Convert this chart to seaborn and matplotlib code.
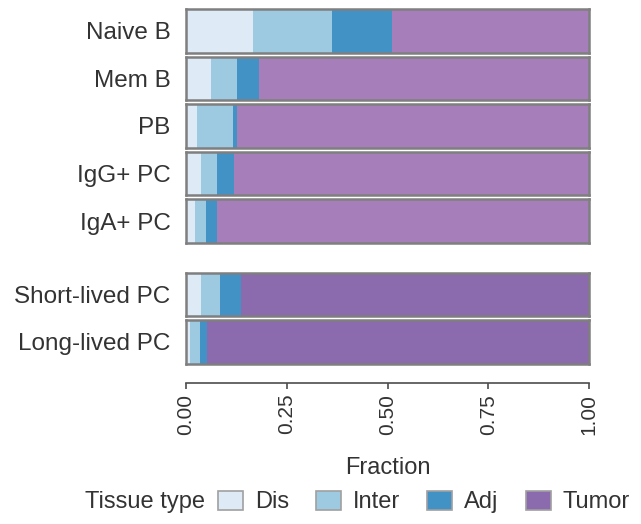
import numpy as np
import pandas as pd
import matplotlib.pyplot as plt
import seaborn as sns
from matplotlib.patches import Patch

sns.set_style("white")
plt.rcParams["font.family"] = ["Liberation Sans", "DejaVu Sans"]

# fractions per cell type
cells = ["Naive B", "Mem B", "PB", "IgG+ PC", "IgA+ PC", "Short-lived PC", "Long-lived PC"]
group = ["top", "top", "top", "top", "top", "bottom", "bottom"]
dis = [0.167, 0.061, 0.028, 0.037, 0.023, 0.038, 0.010]
inter = [0.195, 0.065, 0.088, 0.041, 0.027, 0.047, 0.025]
adj = [0.148, 0.056, 0.010, 0.040, 0.026, 0.051, 0.018]
tumor = [0.490, 0.818, 0.874, 0.882, 0.924, 0.864, 0.947]

tissues = ["Dis", "Inter", "Adj", "Tumor"]
colors = {"Dis": "#DEEBF7", "Inter": "#9ECAE1", "Adj": "#4292C6", "Tumor": "#8B6AAD"}
tumor_top = "#A67FBA"

df = pd.DataFrame({"cell": cells, "group": group, "Dis": dis, "Inter": inter,
                   "Adj": adj, "Tumor": tumor})

W, H = 641, 524
fig = plt.figure(figsize=(W / 100, H / 100), dpi=100)

left, right = 186, 589
tops = [9, 56.6, 104.2, 151.8, 199.4, 272.7, 320.2]
ph = 43.5
text_col = "#333333"

for i, row in df.iterrows():
    ax = fig.add_axes([left / W, 1 - (tops[i] + ph) / H, (right - left) / W, ph / H])
    cum = 0
    stack = []
    for t in tissues:
        cum += row[t]
        stack.append((t, cum))
    # draw the longest segment first so shorter ones sit on top
    for t, c in reversed(stack):
        col = colors[t]
        if t == "Tumor" and row["group"] == "top":
            col = tumor_top
        sns.barplot(x=[c], y=[row["cell"]], color=col, saturation=1,
                    width=1, linewidth=0, ax=ax)
    ax.set_xlim(0, 1)
    ax.set_ylim(0.5, -0.5)
    ax.set_xticks([])
    ax.set_xlabel("")
    ax.set_ylabel("")
    ax.tick_params(axis="y", length=0, pad=11, labelsize=17.5, labelcolor=text_col)
    for s in ax.spines.values():
        s.set_visible(True)
        s.set_color("#7F7F7F")
        s.set_linewidth(1.8)

# x axis drawn below the panels
xax = fig.add_axes([left / W, 1 - 382.7 / H, (right - left) / W, 1e-4])
xax.set_xlim(0, 1)
xax.set_yticks([])
for s in ["left", "right", "top"]:
    xax.spines[s].set_visible(False)
xax.spines["bottom"].set_color("#4D4D4D")
xax.spines["bottom"].set_linewidth(1.2)
ticks = [0, 0.25, 0.5, 0.75, 1.0]
xax.set_xticks(ticks)
xax.set_xticklabels(["0.00", "0.25", "0.50", "0.75", "1.00"], rotation=90)
xax.tick_params(axis="x", direction="out", length=4, width=1.2, color="#4D4D4D",
                labelsize=15, labelcolor=text_col, pad=4, bottom=True)
xax.set_xlabel("Fraction", fontsize=17, color=text_col, labelpad=16)

# legend with title to its left
fig.text(205 / W, 1 - 502 / H, "Tissue type", ha="right", va="center",
         fontsize=17, color=text_col)
handles = [Patch(facecolor=colors[t], edgecolor="#A0A0A0", linewidth=1.2) for t in tissues]
fig.legend(handles, tissues, loc="center left", bbox_to_anchor=(218 / W, 1 - 502 / H),
           ncol=4, frameon=False, fontsize=17, handlelength=1.06, handleheight=0.89,
           handletextpad=0.5, columnspacing=1.15, borderpad=0, borderaxespad=0,
           labelcolor=text_col)

fig.savefig("out.png", dpi=100, facecolor="white")
